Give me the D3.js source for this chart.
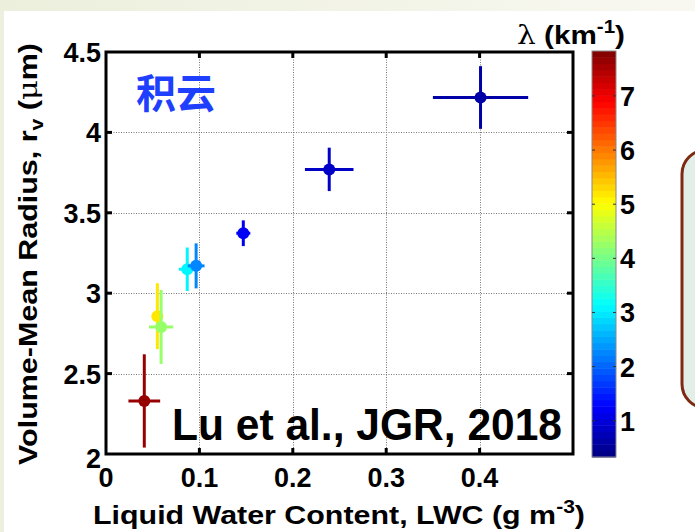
<!DOCTYPE html>
<html>
<head>
<meta charset="utf-8">
<script src="https://cdn.jsdelivr.net/npm/d3@7"></script>
<style>
  body { margin: 0; background: #fff; }
  svg { display: block; }
  text { font-family: "Liberation Sans", Arial, sans-serif; font-weight: bold; fill: #000; }
</style>
</head>
<body>
<div id="chart"></div>
<script>
// LWC (g m^-3) and its half error
const lwc = [0.041, 0.055, 0.059, 0.087, 0.0965, 0.147, 0.239, 0.401];
const lwcErr = [0.017, 0.003, 0.013, 0.009, 0.009, 0.0075, 0.026, 0.051];
// volume-mean radius (um) and its half error
const rv = [2.33, 2.857, 2.79, 3.149, 3.17, 3.373, 3.77, 4.217];
const rvErr = [0.29, 0.205, 0.23, 0.135, 0.14, 0.08, 0.135, 0.195];
// extinction lambda (km^-1), used for the colour
const lambda = [7.7, 5.2, 4.2, 3.1, 2.3, 1.2, 0.8, 0.6];

const xTicks = [0, 0.1, 0.2, 0.3, 0.4];
const yTicks = [2, 2.5, 3, 3.5, 4, 4.5];
const cbTicks = [1, 2, 3, 4, 5, 6, 7];
const cbDomain = [0.33, 7.83];
const nLevels = 64;

const W = 695, H = 532;
const plot = { left: 106, right: 573, top: 52, bottom: 454 };

const svg = d3.select('#chart').append('svg')
    .attr('width', W)
    .attr('height', H);

// slide-like background
const defs = svg.append('defs');
const grad = defs.append('linearGradient').attr('id', 'topStrip');
grad.append('stop').attr('offset', '0%').attr('stop-color', '#ecefdc');
grad.append('stop').attr('offset', '100%').attr('stop-color', '#f8f8f1');
svg.append('rect').attr('width', W).attr('height', H).attr('fill', '#eef0df');
svg.append('rect').attr('width', W).attr('height', 11).attr('fill', 'url(#topStrip)');
svg.append('rect').attr('x', 4).attr('y', 11).attr('width', W - 4).attr('height', H - 11).attr('fill', '#fff');

// side box peeking in from the right
svg.append('rect')
    .attr('x', 682).attr('y', 150).attr('width', 60).attr('height', 258)
    .attr('rx', 24)
    .attr('fill', '#e2eee8')
    .attr('stroke', '#7e2a12')
    .attr('stroke-width', 3);

const x = d3.scaleLinear().domain([0, 0.5]).range([plot.left, plot.right]);
const y = d3.scaleLinear().domain([2, 4.5]).range([plot.bottom, plot.top]);

// MATLAB jet
function jet(t) {
    const c = v => Math.round(255 * Math.max(0, Math.min(1, v)));
    return d3.rgb(c(1.5 - Math.abs(4 * t - 3)), c(1.5 - Math.abs(4 * t - 2)), c(1.5 - Math.abs(4 * t - 1)));
}
const colorOf = v => {
    const t = (v - cbDomain[0]) / (cbDomain[1] - cbDomain[0]);
    const k = Math.max(0, Math.min(nLevels - 1, Math.floor(t * nLevels)));
    return jet((k + 0.5) / nLevels);
};

// grid
const grid = svg.append('g').attr('stroke', '#777').attr('stroke-width', 1).attr('stroke-dasharray', '1,1.5');
grid.selectAll('.gx').data(xTicks.slice(1)).enter().append('line')
    .attr('x1', d => Math.round(x(d)) + 0.5).attr('x2', d => Math.round(x(d)) + 0.5)
    .attr('y1', plot.top).attr('y2', plot.bottom);
grid.selectAll('.gy').data(yTicks.slice(1, -1)).enter().append('line')
    .attr('y1', d => Math.round(y(d)) + 0.5).attr('y2', d => Math.round(y(d)) + 0.5)
    .attr('x1', plot.left).attr('x2', plot.right);

// annotations
svg.append('text')
    .attr('x', 136).attr('y', 108)
    .style('font-family', '"Noto Sans CJK SC", sans-serif')
    .style('font-weight', 'bold')
    .style('font-size', '40px')
    .style('fill', '#1f3fff')
    .text('积云');

svg.append('text')
    .attr('x', 172).attr('y', 440)
    .attr('textLength', 390).attr('lengthAdjust', 'spacingAndGlyphs')
    .style('font-size', '44px')
    .text('Lu et al., JGR, 2018');

// data points with error bars
const pts = lwc.map((d, i) => ({ x: d, xe: lwcErr[i], y: rv[i], ye: rvErr[i], c: colorOf(lambda[i]) }));
const pg = svg.append('g').selectAll('g').data(pts).enter().append('g');
pg.append('line')
    .attr('x1', d => x(d.x - d.xe)).attr('x2', d => x(d.x + d.xe))
    .attr('y1', d => y(d.y)).attr('y2', d => y(d.y))
    .attr('stroke', d => d.c).attr('stroke-width', 3);
pg.append('line')
    .attr('x1', d => x(d.x)).attr('x2', d => x(d.x))
    .attr('y1', d => y(d.y - d.ye)).attr('y2', d => y(d.y + d.ye))
    .attr('stroke', d => d.c).attr('stroke-width', 3);
pg.append('circle')
    .attr('cx', d => x(d.x)).attr('cy', d => y(d.y)).attr('r', 6)
    .attr('fill', d => d.c);

// axes box with inward ticks
const ax = svg.append('g').attr('stroke', '#000').attr('stroke-width', 3);
ax.selectAll('.tb').data(xTicks.slice(1)).enter().append('line')
    .attr('x1', d => x(d)).attr('x2', d => x(d)).attr('y1', plot.bottom).attr('y2', plot.bottom - 6);
ax.selectAll('.tt').data(xTicks.slice(1)).enter().append('line')
    .attr('x1', d => x(d)).attr('x2', d => x(d)).attr('y1', plot.top).attr('y2', plot.top + 6);
ax.selectAll('.tl').data(yTicks.slice(1, -1)).enter().append('line')
    .attr('y1', d => y(d)).attr('y2', d => y(d)).attr('x1', plot.left).attr('x2', plot.left + 6);
ax.selectAll('.tr').data(yTicks.slice(1, -1)).enter().append('line')
    .attr('y1', d => y(d)).attr('y2', d => y(d)).attr('x1', plot.right).attr('x2', plot.right - 6);
ax.append('rect')
    .attr('x', plot.left).attr('y', plot.top)
    .attr('width', plot.right - plot.left).attr('height', plot.bottom - plot.top)
    .attr('fill', 'none');

// tick labels
const fmt = d3.format('~g');
svg.append('g').selectAll('text').data(xTicks).enter().append('text')
    .attr('x', d => x(d)).attr('y', 487)
    .attr('text-anchor', 'middle')
    .style('font-size', '27px')
    .text(fmt);
svg.append('g').selectAll('text').data(yTicks).enter().append('text')
    .attr('x', 101).attr('y', d => y(d) + 10 + (d === 2 ? 4 : 0))
    .attr('text-anchor', 'end')
    .style('font-size', '27px')
    .text(fmt);

// axis titles
const xl = svg.append('text')
    .attr('x', 93).attr('y', 524)
    .attr('textLength', 492).attr('lengthAdjust', 'spacingAndGlyphs')
    .style('font-size', '26px');
xl.append('tspan').text('Liquid Water Content, LWC (g m');
xl.append('tspan').attr('dy', -11).style('font-size', '18px').text('-3');
xl.append('tspan').attr('dy', 11).text(')');

const yl = svg.append('text')
    .attr('transform', 'translate(37,465) rotate(-90)')
    .attr('textLength', 422).attr('lengthAdjust', 'spacingAndGlyphs')
    .style('font-size', '26px');
yl.append('tspan').text('Volume-Mean Radius, r');
yl.append('tspan').attr('dy', 6).style('font-size', '18px').text('v');
yl.append('tspan').attr('dy', -6).text(' (');
yl.append('tspan').style('font-weight', 'normal').style('font-family', '"DejaVu Serif", serif').text('μ');
yl.append('tspan').text('m)');

// colorbar
const cb = { left: 592, right: 616, top: 51, bottom: 457 };
const cy = d3.scaleLinear().domain(cbDomain).range([cb.bottom, cb.top]);
const levels = d3.range(nLevels);
const step = (cbDomain[1] - cbDomain[0]) / nLevels;
svg.append('g').selectAll('rect').data(levels).enter().append('rect')
    .attr('x', cb.left).attr('width', cb.right - cb.left)
    .attr('y', k => cy(cbDomain[0] + (k + 1) * step))
    .attr('height', k => cy(cbDomain[0] + k * step) - cy(cbDomain[0] + (k + 1) * step) + 0.5)
    .attr('fill', k => jet((k + 0.5) / nLevels));
svg.append('rect')
    .attr('x', cb.left).attr('y', cb.top)
    .attr('width', cb.right - cb.left).attr('height', cb.bottom - cb.top)
    .attr('fill', 'none').attr('stroke', '#888').attr('stroke-width', 1);
const cbt = svg.append('g').attr('stroke', '#333').attr('stroke-width', 1);
cbt.selectAll('.l').data(cbTicks).enter().append('line')
    .attr('x1', cb.left).attr('x2', cb.left + 3).attr('y1', d => cy(d)).attr('y2', d => cy(d));
cbt.selectAll('.r').data(cbTicks).enter().append('line')
    .attr('x1', cb.right - 3).attr('x2', cb.right).attr('y1', d => cy(d)).attr('y2', d => cy(d));
svg.append('g').selectAll('text').data(cbTicks).enter().append('text')
    .attr('x', 620).attr('y', d => cy(d) + 10)
    .style('font-size', '27px')
    .text(d => d);

const ct = svg.append('text')
    .attr('x', 517).attr('y', 44)
    .attr('textLength', 108).attr('lengthAdjust', 'spacingAndGlyphs')
    .style('font-size', '26px');
ct.append('tspan').style('font-weight', 'normal').style('font-family', '"DejaVu Serif", serif').text('λ');
ct.append('tspan').text(' (km');
ct.append('tspan').attr('dy', -11).style('font-size', '18px').text('-1');
ct.append('tspan').attr('dy', 11).text(')');
</script>
</body>
</html>
